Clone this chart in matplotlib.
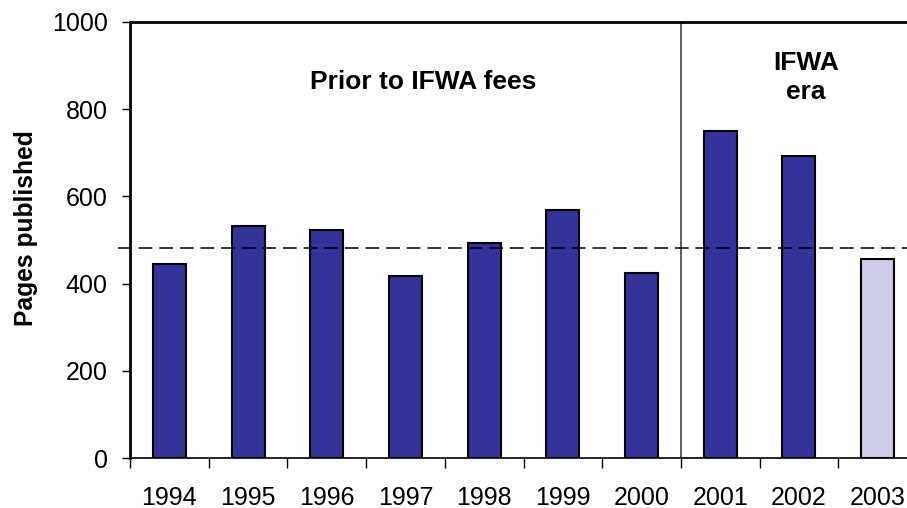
import numpy as np
import matplotlib.pyplot as plt

plt.rcParams["font.family"] = ["Liberation Sans", "DejaVu Sans"]

years = ["1994", "1995", "1996", "1997", "1998", "1999", "2000", "2001", "2002", "2003"]
pages = [445, 533, 523, 417, 494, 569, 424, 750, 693, 456]
partial_year = "2003"
average_pages = 481

dark = "#333399"
light = "#CCCCE6"
colors = [light if y == partial_year else dark for y in years]

fig = plt.figure(figsize=(9.07, 5.08), dpi=100)
ax = fig.add_axes([130 / 907, 1 - 458 / 508, 787 / 907, 436 / 508])

x = np.arange(len(years))
ax.bar(x, pages, width=0.42, color=colors, edgecolor="black", linewidth=1.5, zorder=3)

# average line, runs a little past the left axis like the original
ax.hlines(average_pages, -0.65, len(years) - 0.5, color="black",
          linestyles=[(0, (9, 4.5))], linewidth=1.1, zorder=4, clip_on=False)
ax.vlines(6.5, 0, 1000, color="#333333", linewidth=1.1, zorder=2)

ax.set_xlim(-0.5, len(years) - 0.5)
ax.set_ylim(0, 1000)
ax.set_yticks([0, 200, 400, 600, 800, 1000])
ax.set_xticks(x)
ax.set_xticklabels(years)
ax.set_xticks(np.arange(-0.5, len(years)), minor=True)
ax.tick_params(axis="x", which="major", length=0, pad=20, labelsize=18)
ax.tick_params(axis="x", which="minor", length=7, width=1.0, direction="out")
ax.tick_params(axis="y", length=6, width=1.0, direction="out", labelsize=18, pad=10)

for side in ["left", "top"]:
    ax.spines[side].set_linewidth(2.0)
ax.spines["bottom"].set_linewidth(1.2)

ax.set_ylabel("Pages published", fontsize=17.7, fontweight="bold")
ax.yaxis.set_label_coords(-0.117, 0.527)

ax.text(3.22, 862, "Prior to IFWA fees", ha="center", va="center", fontsize=19, fontweight="bold")
ax.text(8.09, 872, "IFWA\nera", ha="center", va="center", fontsize=19, fontweight="bold", linespacing=1.25)

fig.savefig("out.png", dpi=100)
